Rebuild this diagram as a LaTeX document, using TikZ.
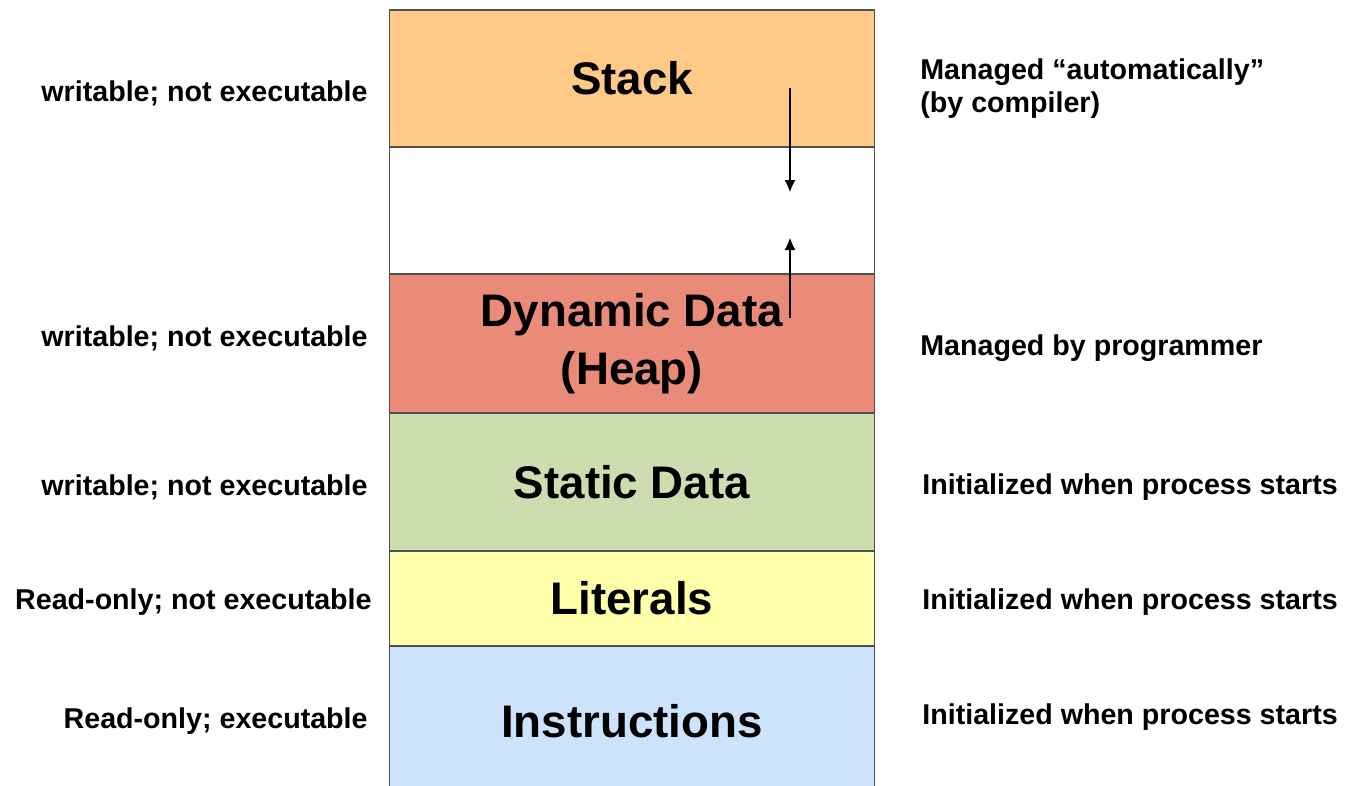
\documentclass[tikz,border=0pt]{standalone}
\usepackage{fontspec}
\setmainfont{Liberation Sans}
\usetikzlibrary{arrows.meta}
\definecolor{stackc}{RGB}{255,201,135}
\definecolor{heapc}{RGB}{234,139,122}
\definecolor{staticc}{RGB}{205,221,175}
\definecolor{litc}{RGB}{255,255,170}
\definecolor{instrc}{RGB}{204,228,251}
\definecolor{edgec}{RGB}{80,80,80}
\tikzset{
  seg/.style={draw=edgec, line width=1pt, minimum width=9.7cm, anchor=north,
    inner sep=0pt, font=\fontsize{26}{33}\selectfont\bfseries, align=center},
  lab/.style={font=\fontsize{16.3}{18.7}\selectfont\bfseries, inner sep=0pt},
  lleft/.style={lab, anchor=east},
  lright/.style={lab, anchor=west, align=left}
}
\begin{document}
\begin{tikzpicture}[x=0.02cm,y=-0.02cm]
\useasboundingbox (0,0) rectangle (1346,785);
% Segments
\node[seg, fill=stackc, minimum height=2.74cm] (stack) at (632,9) {Stack};
\node[seg, fill=white, minimum height=2.54cm] (free) at (632,146) {};
\node[seg, fill=heapc, minimum height=2.78cm] (heap) at (632,273) {Dynamic Data\\(Heap)};
\node[seg, fill=staticc, minimum height=2.76cm] (static) at (632,412) {Static Data};
\node[seg, fill=litc, minimum height=1.90cm] (lit) at (632,550) {Literals};
\node[seg, fill=instrc, minimum height=3.0cm] (instr) at (632,645) {Instructions};

% Croissance de la pile et du tas
\coordinate (sgrow) at (790,88);
\coordinate (send) at (790,192);
\coordinate (hgrow) at (790,318);
\coordinate (hend) at (790,238);
\draw[-{Latex[length=2.4mm,width=2.2mm]}, line width=0.6pt] (sgrow) -- (send);
\draw[-{Latex[length=2.4mm,width=2.2mm]}, line width=0.6pt] (hgrow) -- (hend);

% Droits d'acces
\node[lleft] (pstack) at (368,93) {writable; not executable};
\node[lleft] (pheap) at (368,338) {writable; not executable};
\node[lleft] (pstatic) at (368,487) {writable; not executable};
\node[lleft] (plit) at (372,602) {Read-only; not executable};
\node[lleft] (pinstr) at (368,721) {Read-only; executable};

% Gestion
\node[lright] (mstack) at (920,89) {Managed ``automatically''\\(by compiler)};
\node[lright] (mheap) at (920,348) {Managed by programmer};
\node[lright] (mstatic) at (922,487) {Initialized when process starts};
\node[lright] (mlit) at (922,602) {Initialized when process starts};
\node[lright] (minstr) at (922,717) {Initialized when process starts};

\end{tikzpicture}
\end{document}
